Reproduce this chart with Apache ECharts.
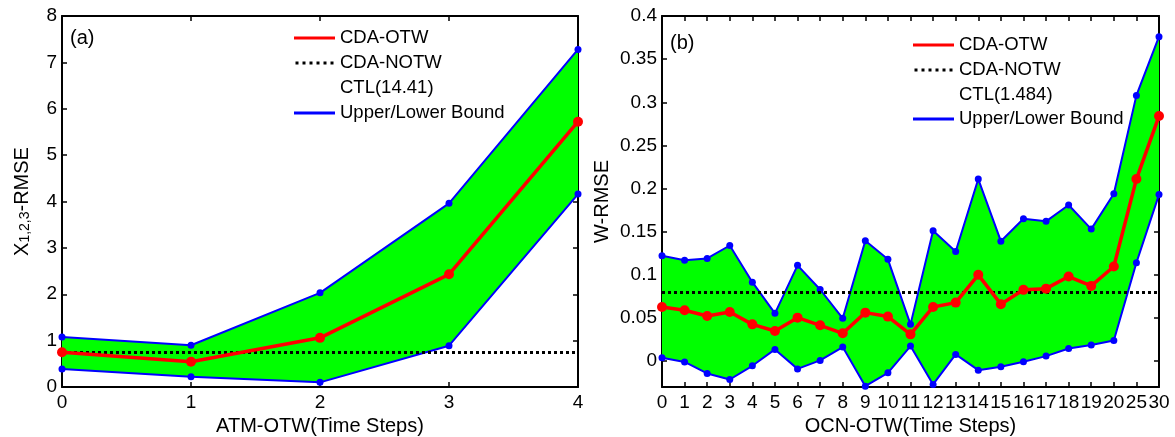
<!DOCTYPE html>
<html>
<head>
<meta charset="utf-8">
<script src="https://cdn.jsdelivr.net/npm/echarts@6/dist/echarts.min.js"></script>
<style>
  html, body { margin: 0; padding: 0; background: #fff; }
  #chart { width: 1175px; height: 437px; }
</style>
</head>
<body>
<div id="chart"></div>
<script>
// ---- (a) atmosphere: RMSE vs. observation time window ----
const atmSteps = ['0', '1', '2', '3', '4'];
const atmUpper = [1.08, 0.90, 2.03, 3.96, 7.28];
const atmOtw   = [0.75, 0.545, 1.06, 2.43, 5.72];
const atmLower = [0.39, 0.22, 0.10, 0.89, 4.16];
const atmNotw  = 0.75;
const atmCtl   = '14.41';
const atmTicks = [0, 1, 2, 3, 4, 5, 6, 7, 8];

// ---- (b) ocean: RMSE vs. observation time window ----
const ocnSteps = ['0', '1', '2', '3', '4', '5', '6', '7', '8', '9', '10', '11',
                  '12', '13', '14', '15', '16', '17', '18', '19', '20', '25', '30'];
const ocnUpper = [0.122, 0.117, 0.119, 0.134, 0.0915, 0.0554, 0.111, 0.083, 0.0496, 0.1395, 0.118, 0.0426,
                  0.151, 0.127, 0.211, 0.139, 0.165, 0.162, 0.181, 0.153, 0.194, 0.308, 0.376];
const ocnOtw   = [0.0628, 0.059, 0.0523, 0.057, 0.0426, 0.0349, 0.0504, 0.0415, 0.0322, 0.0562, 0.0516, 0.031,
                  0.0628, 0.0678, 0.100, 0.066, 0.0826, 0.084, 0.098, 0.0872, 0.1097, 0.211, 0.284];
const ocnLower = [0.0039, -0.001, -0.0143, -0.0213, -0.0054, 0.0136, -0.009, 0.0008, 0.0163, -0.029, -0.0136, 0.0174,
                  -0.027, 0.0078, -0.0105, -0.0066, -0.0008, 0.0058, 0.0147, 0.0186, 0.024, 0.114, 0.193];
const ocnNotw  = 0.0834;
const ocnCtl   = '1.484';
const ocnTicks = [0, 0.05, 0.1, 0.15, 0.2, 0.25, 0.3, 0.35, 0.4];

const FONT = "'Liberation Sans', Arial, sans-serif";
const GREEN = '#00ff00', BLUE = '#0000ff', RED = '#ff0000';

// legend glyphs: solid bar and dotted bar
const solidIcon = 'path://M0,0H41V3H0Z';
const dotIcon = 'path://M0,0h3v3h-3zM7,0h3v3h-3zM14,0h3v3h-3zM21,0h3v3h-3zM28,0h3v3h-3zM35,0h3v3h-3z';

const panels = [
  { steps: atmSteps, upper: atmUpper, otw: atmOtw, lower: atmLower, notw: atmNotw, ctl: atmCtl,
    ticks: atmTicks, min: 0, max: 8, grid: { left: 62, top: 16, width: 516, height: 371 },
    xName: 'ATM-OTW(Time Steps)', yName: '{x|X}{s|1,2,3}{x|-RMSE}', yGap: 30,
    tag: '(a)', tagPos: [70, 28], legendX: 294, legendY: [28, 103], ctlY: 78 },
  { steps: ocnSteps, upper: ocnUpper, otw: ocnOtw, lower: ocnLower, notw: ocnNotw, ctl: ocnCtl,
    ticks: ocnTicks, min: -0.03, max: 0.4, grid: { left: 662, top: 16, width: 497, height: 371 },
    xName: 'OCN-OTW(Time Steps)', yName: 'W-RMSE', yGap: 50,
    tag: '(b)', tagPos: [670, 33], legendX: 913, legendY: [35, 109], ctlY: 85 }
];

const grid = [], xAxis = [], yAxis = [], series = [], legend = [], graphic = [];

const axisLine = { show: true, onZero: false, lineStyle: { color: '#000', width: 2 } };
const axisTick = { show: true, inside: true, length: 5, lineStyle: { color: '#000', width: 1.5 } };
const labelStyle = { color: '#000', fontSize: 19, fontFamily: FONT };

panels.forEach((p, i) => {
  grid.push(Object.assign({ containLabel: false, outerBoundsMode: 'none' }, p.grid));

  // bottom and top category axes (box frame)
  xAxis.push({
    gridIndex: i, type: 'category', data: p.steps, boundaryGap: false, position: 'bottom',
    axisLine, axisTick: Object.assign({ alignWithLabel: true, interval: 0 }, axisTick),
    axisLabel: Object.assign({ margin: 6, interval: 0, hideOverlap: false }, labelStyle),
    splitLine: { show: false },
    name: p.xName, nameLocation: 'middle', nameGap: 27,
    nameTextStyle: { color: '#000', fontSize: 20, fontFamily: FONT }
  });
  xAxis.push({
    gridIndex: i, type: 'category', data: p.steps, boundaryGap: false, position: 'top',
    axisLine, axisTick: Object.assign({ interval: 0 }, axisTick),
    axisLabel: { show: false }, splitLine: { show: false }
  });

  // left and right value axes
  yAxis.push({
    gridIndex: i, type: 'value', min: p.min, max: p.max, position: 'left',
    axisLine, axisTick: Object.assign({ customValues: p.ticks }, axisTick),
    axisLabel: Object.assign({ margin: 5, customValues: p.ticks }, labelStyle),
    splitLine: { show: false },
    name: p.yName, nameLocation: 'middle', nameRotate: 90, nameGap: p.yGap,
    nameTextStyle: {
      color: '#000', fontSize: 20, fontFamily: FONT,
      rich: {
        x: { fontSize: 20, fontFamily: FONT, color: '#000', lineHeight: 20, verticalAlign: 'middle' },
        s: { fontSize: 14, fontFamily: FONT, color: '#000', lineHeight: 14, verticalAlign: 'bottom', padding: [16, 0, 0, 0] }
      }
    }
  });
  yAxis.push({
    gridIndex: i, type: 'value', min: p.min, max: p.max, position: 'right',
    axisLine, axisTick: Object.assign({ customValues: p.ticks }, axisTick),
    axisLabel: { show: false }, splitLine: { show: false }
  });

  const xi = 2 * i, yi = 2 * i;
  const band = p.upper.map((u, k) => u - p.lower[k]);

  // shaded envelope between lower and upper bounds
  series.push({
    type: 'line', xAxisIndex: xi, yAxisIndex: yi, data: p.lower, stack: 'env' + i,
    stackStrategy: 'all', symbol: 'none', lineStyle: { opacity: 0 }, silent: true, z: 1
  });
  series.push({
    type: 'line', xAxisIndex: xi, yAxisIndex: yi, data: band, stack: 'env' + i,
    stackStrategy: 'all', symbol: 'none', lineStyle: { opacity: 0 },
    areaStyle: { color: GREEN, opacity: 1 }, silent: true, z: 1
  });

  // bound lines
  [p.lower, p.upper].forEach(d => series.push({
    name: 'Upper/Lower Bound', type: 'line', xAxisIndex: xi, yAxisIndex: yi, data: d,
    color: BLUE, lineStyle: { color: BLUE, width: 2 }, symbol: 'circle', symbolSize: 7,
    itemStyle: { color: BLUE }, clip: false, z: 3
  }));

  // reference level without the time window
  series.push({
    name: 'CDA-NOTW', type: 'line', xAxisIndex: xi, yAxisIndex: yi, data: [],
    color: '#000', z: 4,
    markLine: {
      silent: true, symbol: ['none', 'none'], label: { show: false },
      lineStyle: { color: '#000', width: 3, type: [3, 3] },
      data: [{ yAxis: p.notw }]
    }
  });

  // analysis error with the time window
  series.push({
    name: 'CDA-OTW', type: 'line', xAxisIndex: xi, yAxisIndex: yi, data: p.otw,
    color: RED, lineStyle: { color: RED, width: 3.5 }, symbol: 'circle', symbolSize: 10,
    itemStyle: { color: RED }, clip: false, z: 5
  });

  const legendBase = {
    orient: 'vertical', left: p.legendX, padding: 0, itemGap: 5,
    itemWidth: 41, itemHeight: 3, selectedMode: false,
    textStyle: { color: '#000', fontSize: 18.5, fontFamily: FONT, lineHeight: 20, padding: [0, 0, 0, 0] }
  };
  legend.push(Object.assign({}, legendBase, {
    top: p.legendY[0],
    data: [{ name: 'CDA-OTW', icon: solidIcon }, { name: 'CDA-NOTW', icon: dotIcon }]
  }));
  legend.push(Object.assign({}, legendBase, {
    top: p.legendY[1],
    data: [{ name: 'Upper/Lower Bound', icon: solidIcon }]
  }));

  graphic.push({
    type: 'text', left: p.legendX + 46, top: p.ctlY,
    style: { text: 'CTL(' + p.ctl + ')', fill: '#000', font: '18.5px ' + FONT }
  });
  graphic.push({
    type: 'text', left: p.tagPos[0], top: p.tagPos[1],
    style: { text: p.tag, fill: '#000', font: '20px ' + FONT }
  });
});

const chart = echarts.init(document.getElementById('chart'), null, { renderer: 'canvas' });
chart.setOption({
  animation: false,
  backgroundColor: '#fff',
  textStyle: { fontFamily: FONT },
  grid, xAxis, yAxis, series, legend, graphic
});
</script>
</body>
</html>
